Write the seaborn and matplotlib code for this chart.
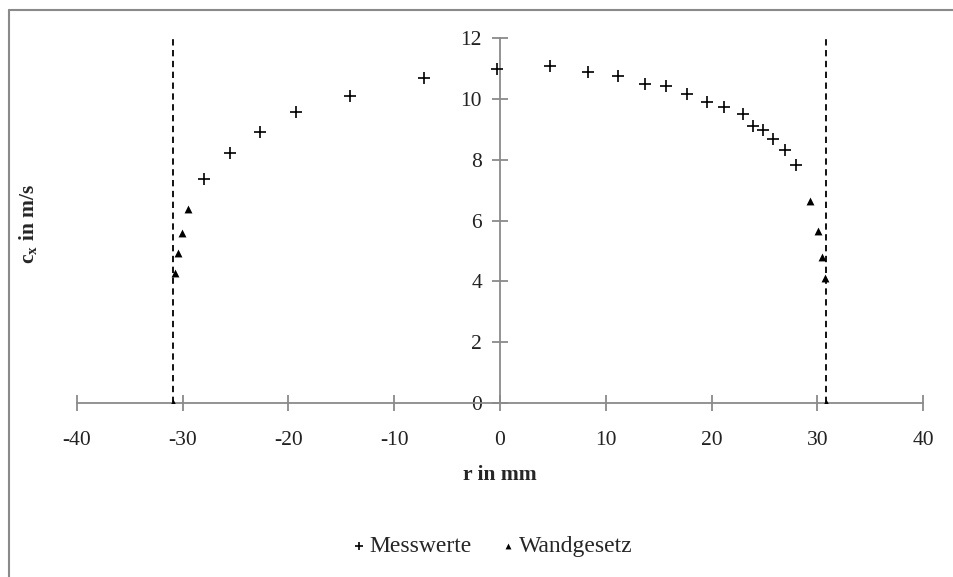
import pandas as pd
import matplotlib
matplotlib.use("Agg")
import matplotlib.pyplot as plt
import seaborn as sns

# Messwerte (r in mm, c_x in m/s)
mess_r = [-27.95, -25.49, -22.66, -19.25, -14.21, -7.21, -0.31, 4.70, 8.29, 11.18,
          13.68, 15.69, 17.67, 19.54, 21.20, 22.94, 23.94, 24.89, 25.83, 26.94, 27.95]
mess_c = [7.36, 8.21, 8.93, 9.58, 10.11, 10.70, 10.98, 11.10, 10.90, 10.77,
          10.49, 10.44, 10.16, 9.91, 9.73, 9.51, 9.12, 8.99, 8.68, 8.34, 7.82]

# Wandgesetz
wand_r = [-30.88, -30.72, -30.46, -30.09, -29.52, 29.30, 30.09, 30.40, 30.72, 30.81]
wand_c = [0.0, 4.27, 4.94, 5.60, 6.38, 6.65, 5.67, 4.79, 4.12, 0.0]

# Rohrwand
wall_r = [-30.9, 30.8]

x_ticks = [-40, -30, -20, -10, 0, 10, 20, 30, 40]
y_ticks = [0, 2, 4, 6, 8, 10, 12]

mess_df = pd.DataFrame({"r": mess_r, "c": mess_c})
wand_df = pd.DataFrame({"r": wand_r, "c": wand_c})

sns.set_style("white")
plt.rcParams["font.family"] = ["Liberation Serif", "DejaVu Serif"]
plt.rcParams["axes.unicode_minus"] = False
plt.rcParams["mathtext.fontset"] = "custom"
plt.rcParams["mathtext.rm"] = "Liberation Serif"
plt.rcParams["mathtext.bf"] = "Liberation Serif:bold"
plt.rcParams["mathtext.it"] = "Liberation Serif:italic"

axis_grey = "#8a8a8a"
fs = 15.5

fig = plt.figure(figsize=(9.54, 5.77), dpi=100)
ax = fig.add_axes([76.7 / 954, 1 - 403 / 577, 846.6 / 954, 364.7 / 577])

sns.scatterplot(data=mess_df, x="r", y="c", marker="+", color="black",
                s=70, linewidth=1.2, label="Messwerte", ax=ax, zorder=3)
sns.scatterplot(data=wand_df, x="r", y="c", marker="^", color="black",
                s=32, linewidth=0, label="Wandgesetz", ax=ax, zorder=3)

ax.vlines(wall_r, 0, 12, colors="black", linestyles=(0, (3.5, 2.5)),
          linewidth=1.3, zorder=2)

ax.set_xlim(-40, 40)
ax.set_ylim(0, 12)
ax.set_xticks(x_ticks)
ax.set_yticks(y_ticks)

for side in ["top", "right"]:
    ax.spines[side].set_visible(False)
ax.spines["left"].set_position(("data", 0))
ax.spines["bottom"].set_position(("data", 0))
for side in ["left", "bottom"]:
    ax.spines[side].set_color(axis_grey)
    ax.spines[side].set_linewidth(1.3)
ax.tick_params(axis="both", bottom=True, left=True, direction="inout",
               length=12, width=1.3, color=axis_grey, labelsize=fs,
               labelcolor="#222222")
ax.tick_params(axis="x", pad=14)
ax.tick_params(axis="y", pad=7)

ax.set_xlabel("r in mm", fontsize=fs, fontweight="bold", labelpad=11)
ax.set_ylabel(r"$\mathbf{c_x}$ in m/s", fontsize=fs, fontweight="bold")
ax.yaxis.set_label_coords(-0.045, 0.49)

ax.legend_.remove()
handles, labels = ax.get_legend_handles_labels()
fig.legend(handles, labels, loc="center", bbox_to_anchor=(0.515, 0.053),
           ncol=2, frameon=False, fontsize=17, handletextpad=0.1,
           handlelength=0.7, columnspacing=1.2, markerscale=0.75)

# Rahmen des Diagrammbereichs
fig.add_artist(plt.Line2D([9 / 954, 9 / 954], [0, 1 - 10 / 577],
                          transform=fig.transFigure, color=axis_grey, lw=1.5))
fig.add_artist(plt.Line2D([9 / 954, 1], [1 - 10 / 577, 1 - 10 / 577],
                          transform=fig.transFigure, color=axis_grey, lw=1.5))

fig.savefig("out.png", dpi=100)
